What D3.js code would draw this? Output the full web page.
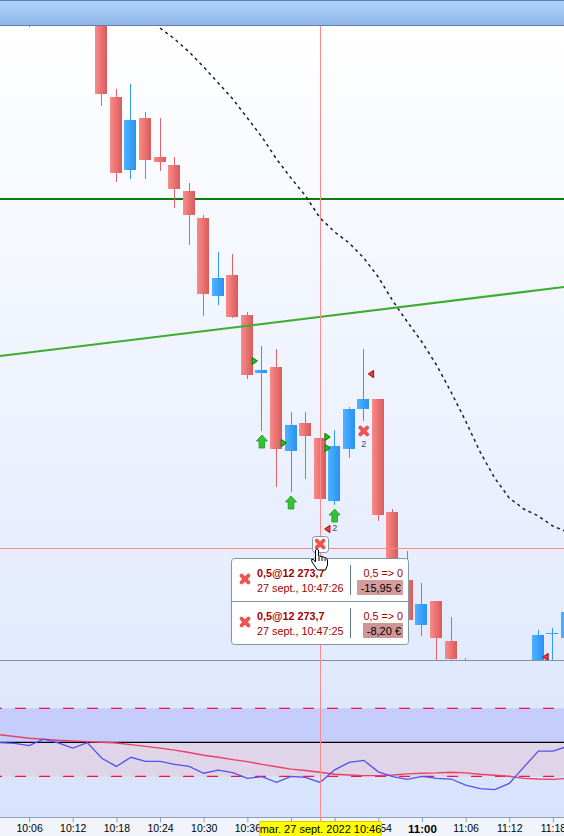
<!DOCTYPE html>
<html>
<head>
<meta charset="utf-8">
<script src="https://cdn.jsdelivr.net/npm/d3@7"></script>
<style>
body { margin: 0; background: #fff; }
svg { display: block; font-family: "Liberation Sans", Arial, sans-serif; }
</style>
</head>
<body>
<svg width="564" height="836"></svg>
<script>
// time, open, high, low, close
var candleTimes = ["10:06","10:16","10:18","10:20","10:22","10:24","10:26","10:28","10:30","10:32","10:34","10:36","10:38","10:40","10:42","10:44","10:46","10:48","10:50","10:52","10:54","10:56","10:58","11:00","11:02","11:04","11:06","11:16","11:18","11:20"];
var opens  = [12412,12408.25,12386.5,12368.25,12381.25,12371.5,12369.5,12363,12356.25,12336.75,12342,12332,12317.5,12319,12298,12305,12301.25,12285.5,12298.5,12308.5,12311,12282.75,12265.75,12254.5,12260.5,12250.5,12244.5,12242,12252.25,12251.25];
var highs  = [12416,12410,12388.5,12389.75,12382.75,12381.25,12371.5,12365,12357,12347.75,12347.25,12332.75,12324.25,12323.5,12307.75,12307.75,12306.5,12303.25,12309,12323.5,12311,12283.5,12273,12265,12260.5,12256.5,12246.25,12253.25,12253.75,12260.75];
var lows   = [12404,12384.25,12365.25,12366,12366,12368,12358.75,12349.5,12331.75,12334.5,12331.25,12316,12303,12289,12287.75,12291,12276.75,12284.5,12296.25,12305.5,12280.5,12265.75,12255.25,12251.75,12244.75,12244.75,12238.25,12240.75,12243.25,12249.5];
var closes = [12408,12387.25,12367.5,12380.75,12370.75,12370.25,12363.5,12357,12337.25,12341.25,12331.5,12317,12318.25,12298.5,12304.5,12301.75,12286,12299.25,12308.5,12311,12282,12267,12255.75,12259.75,12251.25,12246,12240.75,12252,12252.5,12257.75];

var maTimes = ["10:24","10:26","10:28","10:30","10:32","10:34","10:36","10:38","10:40","10:42","10:44","10:46","10:48","10:50","10:52","10:54","10:56","10:58","11:00","11:02","11:04","11:06","11:08","11:10","11:12","11:14","11:16","11:18","11:20"];
var maValues = [12403.75,12401,12397.75,12394,12390,12386,12381.25,12376.5,12371,12366.25,12361.75,12356.25,12352.75,12350,12346.25,12341.5,12335.5,12330.25,12325.25,12319.5,12312.75,12305.5,12297.75,12291.25,12286.25,12283.5,12281.75,12279.25,12277.75];

var supportLevel = 12361;
var trendTimes = ["10:02","11:20"];
var trendValues = [12321.75,12339.1];
var crossTime = "10:46";
var crossPrice = 12273.75;

var arrowTimes = ["10:38","10:42","10:48"];
var arrowPrices = [12302,12286.75,12283.5];
var arrowCounts = ["","","2"];
var entryTimes = ["10:37","10:41","10:47","10:47"];
var entryPrices = [12320.5,12300,12301.5,12298.75];
var exitTimes = ["10:53","10:47","11:17"];
var exitPrices = [12317.25,12278.5,12246.5];
var crossMarkTimes = ["10:52"];
var crossMarkPrices = [12303];

// oscillator, one value per 2 minutes from 10:02
var oscStart = "10:02";
var oscBlue = [-1,-3,-10,9,-2,-17,-1,-47,-71,-44,-56,-56,-65,-71,-91,-82,-89,-106,-101,-118,-100,-103,-118,-81,-59,-53,-87,-101,-109,-100,-106,-108,-126,-136,-139,-121,-73,-26,-26,-12];
var oscRed = [22,17,12,9,6,4,2,0,-2,-7,-12,-17,-23,-30,-38,-44,-51,-57,-65,-72,-79,-83,-88,-94,-96,-98,-98,-96,-93,-91,-90,-88,-90,-94,-97,-100,-106,-108,-109,-106];
var oscLevels = [100,-100];

var tickTimes = ["10:00","10:06","10:12","10:18","10:24","10:30","10:36","10:42","10:48","10:54","11:00","11:06","11:12","11:18"];
var hiddenTicks = ["10:42","10:48"];
var crossLabel = "mar. 27 sept. 2022 10:46";

var trades = [
    {title: "0,5@12 273,7", date: "27 sept., 10:47:26", pos: "0,5 => 0", pnl: "-15,95 €"},
    {title: "0,5@12 273,7", date: "27 sept., 10:47:25", pos: "0,5 => 0", pnl: "-8,20 €"}
];

var parseTime = d3.timeParse("%H:%M");
var fmt = d3.timeFormat("%H:%M");
var x = d3.scaleTime()
    .domain([parseTime("10:06"), parseTime("11:18")])
    .range([29.1, 552.9]);
var y = d3.scaleLinear()
    .domain([12245.75, 12404.25])
    .range([660, 26]);
var yOsc = d3.scaleLinear()
    .domain([-219.7, 239.1])
    .range([817, 661]);

function tx(s) {
    return x(parseTime(s));
}

var svg = d3.select("svg");
var defs = svg.append("defs");

function gradient(id, x2, y2, c1, c2) {
    var g = defs.append("linearGradient").attr("id", id)
        .attr("x1", 0).attr("y1", 0).attr("x2", x2).attr("y2", y2);
    g.append("stop").attr("offset", 0).attr("stop-color", c1);
    g.append("stop").attr("offset", 1).attr("stop-color", c2);
}
gradient("gHead", 0, 1, "#b0d5fc", "#8fb5e5");
gradient("gMain", 0, 1, "#ffffff", "#e2eafd");
gradient("gSub", 0, 1, "#e1e9fd", "#d7e3fd");
gradient("gDown", 1, 0, "#fb8a8a", "#d85b5b");
gradient("gUp", 1, 0, "#4db3ff", "#2b90f2");

defs.append("clipPath").attr("id", "clipMain").append("rect")
    .attr("x", 0).attr("y", 26).attr("width", 564).attr("height", 634);
defs.append("clipPath").attr("id", "clipOsc").append("rect")
    .attr("x", 0).attr("y", 661).attr("width", 564).attr("height", 156);

// backgrounds
svg.append("rect").attr("x", 0).attr("y", 26).attr("width", 564).attr("height", 634).attr("fill", "url(#gMain)");
svg.append("rect").attr("x", 0).attr("y", 661).attr("width", 564).attr("height", 156).attr("fill", "url(#gSub)");
svg.append("rect").attr("x", 0).attr("y", 817).attr("width", 564).attr("height", 19).attr("fill", "#f1f4fb");
svg.append("rect").attr("x", 0).attr("y", 0).attr("width", 564).attr("height", 26).attr("fill", "url(#gHead)");
svg.append("line").attr("x1", 0).attr("x2", 564).attr("y1", 0.5).attr("y2", 0.5).attr("stroke", "#5c80b2");
svg.append("line").attr("x1", 0).attr("x2", 564).attr("y1", 25.5).attr("y2", 25.5).attr("stroke", "#5c80b2");
svg.append("line").attr("x1", 0).attr("x2", 564).attr("y1", 660.5).attr("y2", 660.5).attr("stroke", "#7b93a3");

// oscillator bands
svg.append("rect").attr("x", 0).attr("width", 564)
    .attr("y", yOsc(oscLevels[0])).attr("height", yOsc(0) - yOsc(oscLevels[0])).attr("fill", "#c5cdfc");
svg.append("rect").attr("x", 0).attr("width", 564)
    .attr("y", yOsc(0)).attr("height", yOsc(oscLevels[1]) - yOsc(0)).attr("fill", "#e0d4e9");

var main = svg.append("g").attr("clip-path", "url(#clipMain)");

main.append("line").attr("x1", 0).attr("x2", 564)
    .attr("y1", y(supportLevel)).attr("y2", y(supportLevel))
    .attr("stroke", "#0a7d0a").attr("stroke-width", 2);

var candles = candleTimes.map(function (t, i) {
    return {t: t, o: opens[i], h: highs[i], l: lows[i], c: closes[i]};
});

main.selectAll("line.wick").data(candles).enter().append("line")
    .attr("class", "wick")
    .attr("x1", function (d) { return Math.floor(tx(d.t)) + 0.5; })
    .attr("x2", function (d) { return Math.floor(tx(d.t)) + 0.5; })
    .attr("y1", function (d) { return y(d.h); })
    .attr("y2", function (d) { return y(d.l); })
    .attr("stroke", function (d) { return d.c > d.o ? "#2f9bff" : "#e0626a"; })
    .attr("shape-rendering", "crispEdges");

main.selectAll("rect.body").data(candles).enter().append("rect")
    .attr("class", "body")
    .attr("x", function (d) { return Math.floor(tx(d.t)) - 6; })
    .attr("width", 12)
    .attr("y", function (d) { return y(Math.max(d.o, d.c)); })
    .attr("height", function (d) { return Math.abs(y(d.o) - y(d.c)); })
    .attr("fill", function (d) { return d.c > d.o ? "url(#gUp)" : "url(#gDown)"; })
    .attr("shape-rendering", "crispEdges");

// moving average
var maLine = d3.line()
    .x(function (d) { return tx(d.t); })
    .y(function (d) { return y(d.v); });
main.append("path")
    .datum(maTimes.map(function (t, i) { return {t: t, v: maValues[i]}; }))
    .attr("d", maLine)
    .attr("fill", "none")
    .attr("stroke", "#1c1c1c")
    .attr("stroke-width", 1.5)
    .attr("stroke-dasharray", "3,3.6");

// trend line
main.append("line")
    .attr("x1", tx(trendTimes[0])).attr("y1", y(trendValues[0]))
    .attr("x2", tx(trendTimes[1])).attr("y2", y(trendValues[1]))
    .attr("stroke", "#3cae2f").attr("stroke-width", 2);

// order markers
var arrowPath = "M0,0 L5.5,6 L2.8,6 L2.8,13 L-2.8,13 L-2.8,6 L-5.5,6 Z";
main.selectAll("path.arrow").data(arrowTimes).enter().append("path")
    .attr("class", "arrow")
    .attr("d", arrowPath)
    .attr("transform", function (d, i) { return "translate(" + tx(d) + "," + y(arrowPrices[i]) + ")"; })
    .attr("fill", "#35c235").attr("stroke", "#1a9a1a").attr("stroke-width", 0.8);

main.selectAll("path.entry").data(entryTimes).enter().append("path")
    .attr("class", "entry")
    .attr("d", "M-2.5,-3.5 L2.5,0 L-2.5,3.5 Z")
    .attr("transform", function (d, i) { return "translate(" + tx(d) + "," + y(entryPrices[i]) + ")"; })
    .attr("fill", "#35c035").attr("stroke", "#0f8a0f").attr("stroke-width", 1.2)
    .attr("stroke-linejoin", "round");

main.selectAll("path.exit").data(exitTimes).enter().append("path")
    .attr("class", "exit")
    .attr("d", "M2.5,-3.5 L-2.5,0 L2.5,3.5 Z")
    .attr("transform", function (d, i) { return "translate(" + tx(d) + "," + y(exitPrices[i]) + ")"; })
    .attr("fill", "#ee4444").attr("stroke", "#b81a1a").attr("stroke-width", 1.2)
    .attr("stroke-linejoin", "round");

function drawCross(g, cx, cy) {
    var r = 3.4;
    g.append("path")
        .attr("d", "M" + (cx - r) + "," + (cy - r) + " L" + (cx + r) + "," + (cy + r) +
            " M" + (cx + r) + "," + (cy - r) + " L" + (cx - r) + "," + (cy + r))
        .attr("stroke", "#ec5555")
        .attr("stroke-width", 4)
        .attr("stroke-linecap", "round")
        .attr("fill", "none");
}

crossMarkTimes.forEach(function (t, i) {
    drawCross(main, tx(t), y(crossMarkPrices[i]));
    main.append("text").attr("x", tx(t)).attr("y", y(crossMarkPrices[i]) + 16)
        .attr("text-anchor", "middle").attr("font-size", 9).attr("fill", "#444466").text("2");
});
main.append("text").attr("x", tx("10:48")).attr("y", y(arrowPrices[2]) + 22)
    .attr("text-anchor", "middle").attr("font-size", 9).attr("fill", "#444466").text(arrowCounts[2]);

// oscillator
var osc = svg.append("g").attr("clip-path", "url(#clipOsc)");
oscLevels.forEach(function (v) {
    osc.append("line").attr("x1", 0).attr("x2", 564)
        .attr("y1", yOsc(v)).attr("y2", yOsc(v))
        .attr("stroke", "#ff1144").attr("stroke-width", 1.3)
        .attr("stroke-dasharray", "11,13").attr("stroke-dashoffset", 9);
});
osc.append("line").attr("x1", 0).attr("x2", 564)
    .attr("y1", yOsc(0)).attr("y2", yOsc(0))
    .attr("stroke", "#000").attr("stroke-width", 1.2);

var oscLine = d3.line()
    .x(function (d, i) { return x(d3.timeMinute.offset(parseTime(oscStart), i * 2)); })
    .y(function (d) { return yOsc(d); });
osc.append("path").datum(oscRed).attr("d", oscLine)
    .attr("fill", "none").attr("stroke", "#ea4068").attr("stroke-width", 1.4);
osc.append("path").datum(oscBlue).attr("d", oscLine)
    .attr("fill", "none").attr("stroke", "#4f52f2").attr("stroke-width", 1.3);

// time axis, the two labels under the yellow cursor label are not shown
var axis = d3.axisBottom(x)
    .tickValues(tickTimes.map(parseTime))
    .tickSize(5)
    .tickFormat(function (d) { return hiddenTicks.indexOf(fmt(d)) >= 0 ? "" : fmt(d); });
var axisG = svg.append("g")
    .attr("transform", "translate(0,817.5)")
    .call(axis);
axisG.select(".domain").attr("d", "M0,0H564").attr("stroke", "#8ea0b4");
axisG.selectAll(".tick line").attr("stroke", "#8ea0b4");
axisG.selectAll(".tick text")
    .attr("y", 7.5)
    .attr("dy", "0.71em")
    .attr("fill", "#000")
    .attr("font-family", "Liberation Sans")
    .attr("font-size", function (d) { return fmt(d) === "11:00" ? 11.5 : 10.5; })
    .attr("font-weight", function (d) { return fmt(d) === "11:00" ? "bold" : "normal"; });

// crosshair
svg.append("line")
    .attr("x1", Math.floor(tx(crossTime)) + 0.5).attr("x2", Math.floor(tx(crossTime)) + 0.5)
    .attr("y1", 26).attr("y2", 823)
    .attr("stroke", "#ff8a8a");
svg.append("line")
    .attr("x1", 0).attr("x2", 564)
    .attr("y1", Math.floor(y(crossPrice)) + 0.5).attr("y2", Math.floor(y(crossPrice)) + 0.5)
    .attr("stroke", "#ff8a8a");

svg.append("rect").attr("x", 259.5).attr("y", 821.5).attr("width", 122).attr("height", 15).attr("rx", 2)
    .attr("fill", "#ffff00").attr("stroke", "#d8c800");
svg.append("text").attr("x", 320.5).attr("y", 833).attr("text-anchor", "middle")
    .attr("font-size", 11).attr("fill", "#000").text(crossLabel);

// tooltip
var tip = svg.append("g").attr("transform", "translate(232,558)");
tip.append("rect").attr("x", -0.5).attr("y", 0.5).attr("width", 177).attr("height", 86).attr("rx", 3)
    .attr("fill", "#fff").attr("stroke", "#7f97a7");
tip.append("line").attr("x1", 0).attr("x2", 177).attr("y1", 43.5).attr("y2", 43.5).attr("stroke", "#7f97a7");

var pnlWidths = [46, 40];
trades.forEach(function (d, i) {
    var top = i * 43;
    drawCross(tip, 13, top + 21);
    tip.append("text").attr("x", 25).attr("y", top + 19).attr("font-size", 10.8).attr("font-weight", "bold")
        .attr("fill", "#a00000").text(d.title);
    tip.append("text").attr("x", 25).attr("y", top + 34).attr("font-size", 10.8)
        .attr("fill", "#a00000").text(d.date);
    tip.append("line").attr("x1", 118.5).attr("x2", 118.5).attr("y1", top + 7).attr("y2", top + 37).attr("stroke", "#5f7583");
    tip.append("text").attr("x", 171).attr("y", top + 19).attr("font-size", 10.8).attr("text-anchor", "end")
        .attr("fill", "#a00000").text(d.pos);
    tip.append("rect").attr("x", 171 - pnlWidths[i]).attr("y", top + 22).attr("width", pnlWidths[i]).attr("height", 15)
        .attr("fill", i === 0 ? "#d69c9c" : "#cc9696");
    tip.append("text").attr("x", 169).attr("y", top + 34).attr("font-size", 11).attr("text-anchor", "end")
        .attr("fill", "#000").text(d.pnl);
});

// selected marker and mouse pointer
svg.append("rect").attr("x", 312.5).attr("y", 536.5).attr("width", 16).attr("height", 16).attr("rx", 3)
    .attr("fill", "#fff").attr("stroke", "#7f97a7");
drawCross(svg, tx(crossTime), y(crossPrice + 1));
svg.append("path")
    .attr("d", "M315.5,550 Q317,547.5 318.5,550 L318.5,556 L322,556.5 L326,558 L327.5,560 L327.5,565 L325.5,570 L317.5,570 L312,562 L311.5,559.5 L313.5,559.5 L315.5,562 Z M319,557 L319,561 M322,557 L322,561 M325,558.5 L325,561")
    .attr("fill", "#fff").attr("stroke", "#000").attr("stroke-width", 1);
</script>
</body>
</html>
